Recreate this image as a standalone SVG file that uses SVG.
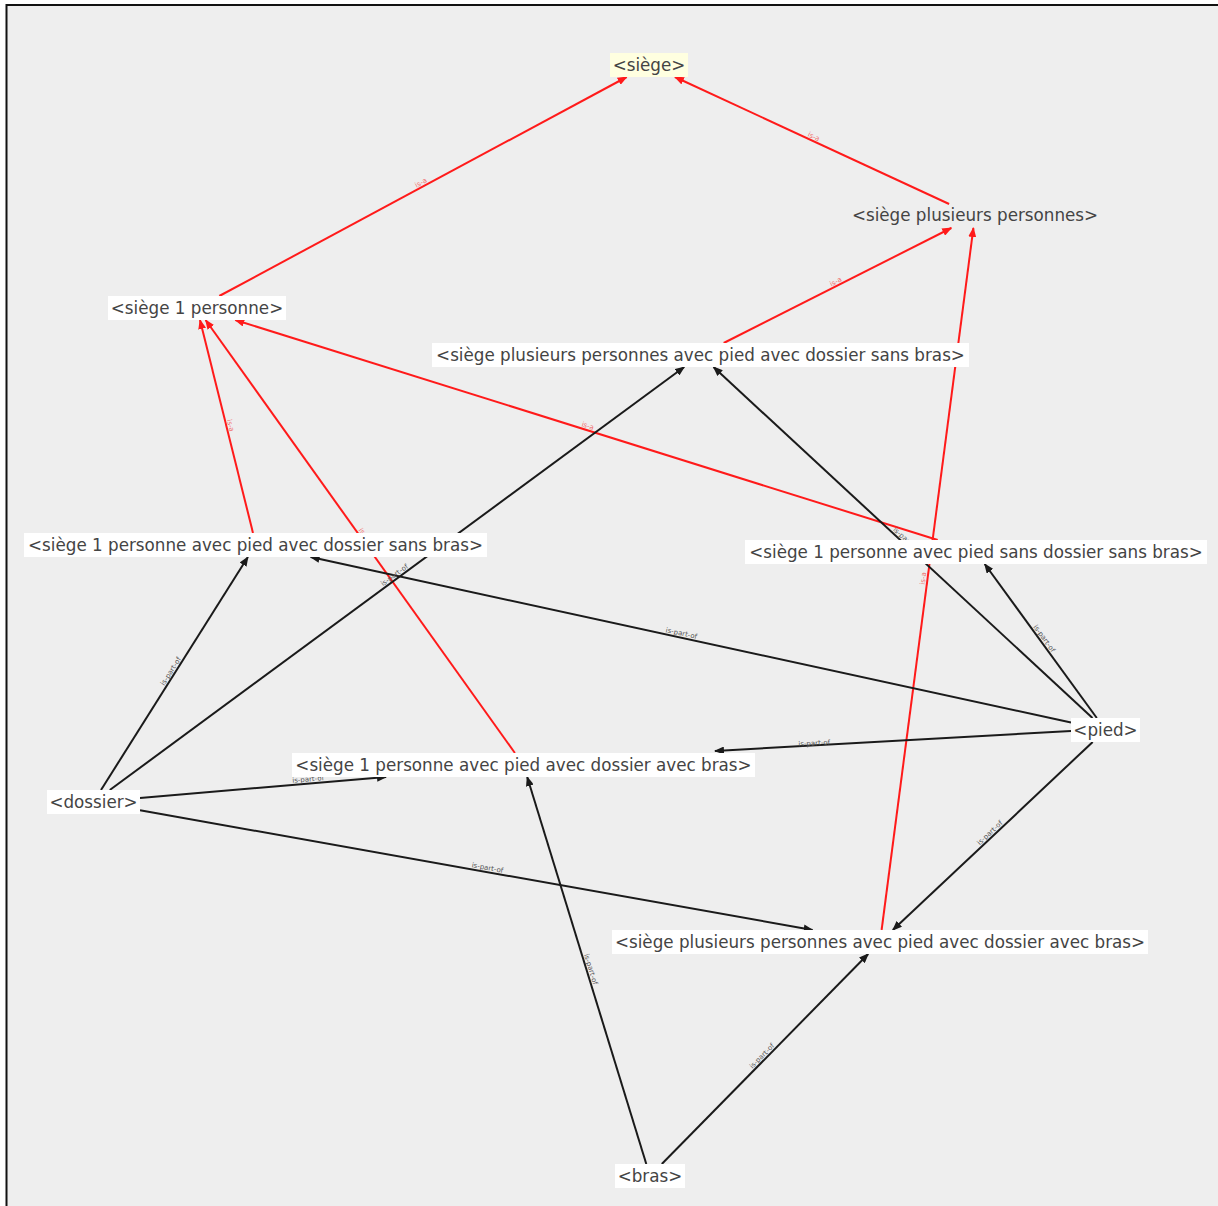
<svg xmlns="http://www.w3.org/2000/svg" width="1218" height="1206" viewBox="0 0 1218 1206">
<style>
.nbox{fill:#ffffff}
.root{fill:#ffffe0}
.nt{font-family:"DejaVu Sans",Verdana,sans-serif;font-size:16.75px;fill:#444;text-anchor:middle}
.isa{stroke:#ff1a1a;stroke-width:2;fill:none;marker-end:url(#ar)}
.ipo{stroke:#1a1a1a;stroke-width:2;fill:none;marker-end:url(#ab)}
.li{font-family:"DejaVu Sans",Verdana,sans-serif;font-size:7px;text-anchor:middle}
.lr{fill:#f07070}
.lb{fill:#555}
</style>
<defs>
<marker id="ar" markerUnits="userSpaceOnUse" markerWidth="10" markerHeight="8" refX="9" refY="4" orient="auto"><path d="M0,0 L10,4 L0,8 z" fill="#ff1a1a"/></marker>
<marker id="ab" markerUnits="userSpaceOnUse" markerWidth="10" markerHeight="8" refX="9" refY="4" orient="auto"><path d="M0,0 L10,4 L0,8 z" fill="#1a1a1a"/></marker>
</defs>
<rect x="0" y="0" width="1218" height="1206" fill="#ffffff"/>
<rect x="6.5" y="5" width="1230" height="1230" fill="#eeeeee" stroke="#111" stroke-width="2"/>
<g id="connectors">
<line class="isa" x1="219.3" y1="296" x2="626.7" y2="77"/>
<line class="isa" x1="949.1" y1="204" x2="674.9" y2="77"/>
<line class="isa" x1="723.7" y1="343" x2="951.3" y2="228"/>
<line class="isa" x1="253" y1="533" x2="200" y2="320"/>
<line class="isa" x1="514.9" y1="753" x2="205.6" y2="320"/>
<line class="isa" x1="937.7" y1="540" x2="235.3" y2="320"/>
<line class="isa" x1="881.6" y1="930" x2="973.4" y2="228"/>
<line class="ipo" x1="101" y1="790" x2="247.9" y2="557"/>
<line class="ipo" x1="109.8" y1="790" x2="684.2" y2="367"/>
<line class="ipo" x1="140" y1="798" x2="386" y2="777"/>
<line class="ipo" x1="140" y1="810.3" x2="812.6" y2="930"/>
<line class="ipo" x1="1071" y1="722.5" x2="310.6" y2="557"/>
<line class="ipo" x1="1092.5" y1="718" x2="713.5" y2="367"/>
<line class="ipo" x1="1096.8" y1="718" x2="984.7" y2="564"/>
<line class="ipo" x1="1071" y1="731" x2="715" y2="751"/>
<line class="ipo" x1="1092.7" y1="742" x2="892.8" y2="930"/>
<line class="ipo" x1="646.3" y1="1164" x2="527.2" y2="777"/>
<line class="ipo" x1="661.8" y1="1164" x2="868.2" y2="954"/>
<g class="li">
<text class="lr" transform="translate(423,186.5) rotate(-28.3)" y="-2">is-a</text>
<text class="lr" transform="translate(812,140.5) rotate(24.85)" y="-2">is-a</text>
<text class="lr" transform="translate(837.75,285.5) rotate(-26.8)" y="-2">is-a</text>
<text class="lr" transform="translate(226.25,426.5) rotate(76)" y="-2">is-a</text>
<text class="lr" transform="translate(360.25,536.5) rotate(54.5)" y="-2">is-a</text>
<text class="lr" transform="translate(586.5,430) rotate(17.4)" y="-2">is-a</text>
<text class="lr" transform="translate(927.5,579) rotate(-82.5)" y="-2">is-a</text>
<text class="lb" transform="translate(174.5,673.5) rotate(-57.8)" y="-2">is-part-of</text>
<text class="lb" transform="translate(397,578.5) rotate(-36.4)" y="-2">is-part-of</text>
<text class="lb" transform="translate(308.5,783.5) rotate(-4.9)" y="-2">is-part-of</text>
<text class="lb" transform="translate(486.75,872) rotate(10.1)" y="-2">is-part-of</text>
<text class="lb" transform="translate(680.5,637.5) rotate(12.3)" y="-2">is-part-of</text>
<text class="lb" transform="translate(903,542.5) rotate(42.8)" y="-2">is-part-of</text>
<text class="lb" transform="translate(1040.75,641) rotate(54)" y="-2">is-part-of</text>
<text class="lb" transform="translate(814.5,747.5) rotate(-3.4)" y="-2">is-part-of</text>
<text class="lb" transform="translate(992.75,836) rotate(-43.2)" y="-2">is-part-of</text>
<text class="lb" transform="translate(586.75,970.5) rotate(72.9)" y="-2">is-part-of</text>
<text class="lb" transform="translate(765,1059) rotate(-45.5)" y="-2">is-part-of</text>
</g>
</g>
<g id="n-siege"><rect class="root" x="610" y="53" width="78" height="24"/><text class="nt" x="649" y="71">&lt;siège&gt;</text></g>
<g id="n-siege-plusieurs"><text class="nt" x="975" y="221">&lt;siège plusieurs personnes&gt;</text></g>
<g id="n-siege-1"><rect class="nbox" x="108" y="296" width="178" height="24"/><text class="nt" x="197" y="314">&lt;siège 1 personne&gt;</text></g>
<g id="n-spp-sans-bras"><rect class="nbox" x="432" y="343" width="537" height="24"/><text class="nt" x="700.5" y="361">&lt;siège plusieurs personnes avec pied avec dossier sans bras&gt;</text></g>
<g id="n-s1p-sans-bras"><rect class="nbox" x="24" y="533" width="463" height="24"/><text class="nt" x="255.5" y="551">&lt;siège 1 personne avec pied avec dossier sans bras&gt;</text></g>
<g id="n-s1p-sans-dossier"><rect class="nbox" x="745" y="540" width="462" height="24"/><text class="nt" x="976" y="558">&lt;siège 1 personne avec pied sans dossier sans bras&gt;</text></g>
<g id="n-pied"><rect class="nbox" x="1071" y="718" width="69" height="24"/><text class="nt" x="1105.5" y="736">&lt;pied&gt;</text></g>
<g id="n-s1p-avec-bras"><rect class="nbox" x="292" y="753" width="463" height="24"/><text class="nt" x="523.5" y="771">&lt;siège 1 personne avec pied avec dossier avec bras&gt;</text></g>
<g id="n-dossier"><rect class="nbox" x="47" y="790" width="93" height="24"/><text class="nt" x="93.5" y="808">&lt;dossier&gt;</text></g>
<g id="n-spp-avec-bras"><rect class="nbox" x="612" y="930" width="536" height="24"/><text class="nt" x="880" y="948">&lt;siège plusieurs personnes avec pied avec dossier avec bras&gt;</text></g>
<g id="n-bras"><rect class="nbox" x="615" y="1164" width="70" height="24"/><text class="nt" x="650" y="1182">&lt;bras&gt;</text></g>
</svg>
